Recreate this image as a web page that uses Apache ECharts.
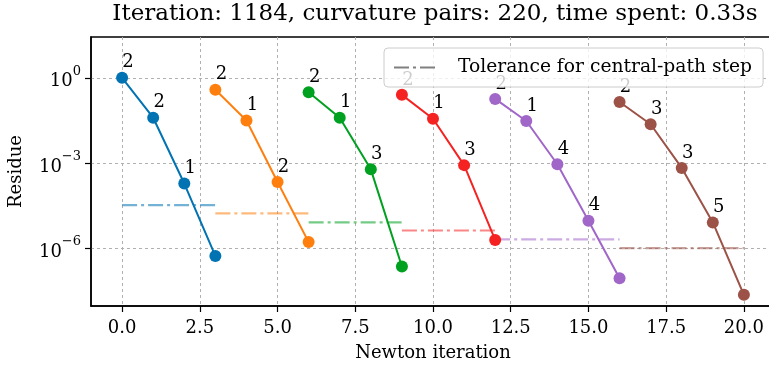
<!DOCTYPE html>
<html>
<head>
<meta charset="utf-8">
<script src="https://cdn.jsdelivr.net/npm/echarts@6/dist/echarts.min.js"></script>
<style>
  html, body { margin: 0; padding: 0; background: #fff; }
  #chart { width: 769px; height: 371px; }
</style>
</head>
<body>
<div id="chart"></div>
<script>
// Residue of each central-path step, one list per step (Newton iterations on x)
const stepStarts = [0, 3, 6, 9, 12, 16];
const residues = [
  [1.0, 3.9e-2, 1.86e-4, 5.2e-7],
  [0.38, 3.1e-2, 2.1e-4, 1.6e-6],
  [0.31, 3.9e-2, 5.9e-4, 2.2e-7],
  [0.25, 3.6e-2, 8.3e-4, 1.9e-6],
  [0.18, 3.0e-2, 8.9e-4, 9.1e-6, 8.5e-8],
  [0.14, 2.3e-2, 6.6e-4, 7.9e-6, 2.2e-8]
];
// curvature pairs used at each Newton iteration
const curvaturePairs = [
  [2, 2, 1],
  [2, 1, 2],
  [2, 1, 3],
  [2, 1, 3],
  [2, 1, 4, 4],
  [2, 3, 3, 5]
];
// tolerance used to stop each central-path step
const tolerances = [3.2e-5, 1.66e-5, 7.9e-6, 4.1e-6, 2.0e-6, 9.8e-7];
const colors = ['#0173b2', '#ff7f0e', '#00a020', '#f52222', '#a066c8', '#9c5246'];
const xTicks = [0, 2.5, 5, 7.5, 10, 12.5, 15, 17.5, 20];
const yTicks = [1e-6, 1e-3, 1];
const titleText = 'Iteration: 1184, curvature pairs: 220, time spent: 0.33s';
const toleranceName = 'Tolerance for central-path step';

const FONT = 'DejaVu Serif';

function fade(hex, a) {
  const n = parseInt(hex.slice(1), 16);
  return `rgba(${(n >> 16) & 255},${(n >> 8) & 255},${n & 255},${a})`;
}

const series = [];

// tolerance segments (drawn underneath)
tolerances.forEach((tol, i) => {
  const x0 = stepStarts[i];
  const x1 = x0 + residues[i].length - 1;
  series.push({
    type: 'line',
    data: [[x0, tol], [x1, tol]],
    symbol: 'none',
    silent: true,
    z: 1,
    lineStyle: { color: fade(colors[i], 0.55), width: 2.2, type: [15, 4, 3, 4] },
    animation: false
  });
});

// residue curves with curvature-pair labels
residues.forEach((vals, i) => {
  const x0 = stepStarts[i];
  series.push({
    type: 'line',
    z: 3,
    data: vals.map((v, k) => {
      const pairs = curvaturePairs[i][k];
      return {
        value: [x0 + k, v],
        label: pairs === undefined ? { show: false } : { show: true, formatter: String(pairs) }
      };
    }),
    symbol: 'circle',
    symbolSize: 12,
    itemStyle: { color: colors[i] },
    lineStyle: { color: colors[i], width: 2 },
    label: {
      position: 'top',
      distance: 4,
      offset: [6, 4],
      color: '#000',
      fontFamily: FONT,
      fontSize: 18
    },
    animation: false
  });
});

// legend entry for the tolerance segments
series.push({
  name: toleranceName,
  type: 'line',
  data: [],
  symbol: 'none',
  showSymbol: false,
  itemStyle: { color: '#808080' },
  lineStyle: { color: '#808080', width: 2.5, type: [15, 4, 3, 4] }
});

function powLabel(v) {
  const e = v <= 0 ? Math.round(v) : Math.round(Math.log10(v));
  const s = e < 0 ? '\u2212' + (-e) : String(e);
  return '{b|10}{s|' + s + '}';
}

const option = {
  animation: false,
  title: {
    text: titleText,
    left: 435,
    textAlign: 'center',
    top: 3,
    padding: 0,
    textStyle: { fontFamily: FONT, fontSize: 23, fontWeight: 'normal', color: '#000' }
  },
  legend: {
    data: [{ name: toleranceName, itemStyle: { opacity: 0 } }],
    left: 384,
    top: 48,
    padding: [10, 11, 10, 9],
    itemWidth: 45,
    itemHeight: 14,
    backgroundColor: 'rgba(255,255,255,0.8)',
    borderColor: '#cccccc',
    borderWidth: 1,
    borderRadius: 4,
    z: 10,
    textStyle: { fontFamily: FONT, fontSize: 18.7, color: '#000', padding: [0, 0, 0, 14] }
  },
  grid: {
    left: 91, top: 37, right: -6, bottom: 65,
    containLabel: false,
    outerBoundsMode: 'none',
    show: true,
    borderColor: '#000',
    borderWidth: 1.5,
    backgroundColor: 'transparent'
  },
  xAxis: {
    type: 'value',
    min: -1,
    max: 21,
    name: 'Newton iteration',
    nameLocation: 'middle',
    nameGap: 38,
    nameTextStyle: { fontFamily: FONT, fontSize: 18, color: '#000' },
    axisLine: { show: true, onZero: false, lineStyle: { color: '#000', width: 1.5 } },
    axisTick: { show: true, length: 6, lineStyle: { color: '#000', width: 1.2 }, customValues: xTicks },
    axisLabel: {
      customValues: xTicks,
      margin: 13,
      fontFamily: FONT, fontSize: 18, color: '#000',
      formatter: v => Number(v).toFixed(1)
    },
    splitLine: { show: true, lineStyle: { color: '#b0b0b0', width: 1, type: [3, 3] } }
  },
  yAxis: {
    type: 'log',
    logBase: 10,
    min: 8.9e-9,
    max: 27.5,
    name: 'Residue',
    nameLocation: 'middle',
    nameGap: 66,
    nameRotate: 90,
    nameTextStyle: { fontFamily: FONT, fontSize: 18, color: '#000' },
    axisLine: { show: true, onZero: false, lineStyle: { color: '#000', width: 1.5 } },
    axisTick: { show: true, length: 6, lineStyle: { color: '#000', width: 1.2 }, customValues: yTicks },
    minorTick: { show: false },
    axisLabel: {
      customValues: yTicks,
      margin: 10,
      formatter: powLabel,
      rich: {
        b: { fontFamily: FONT, fontSize: 18, color: '#000', lineHeight: 26, verticalAlign: 'bottom' },
        s: { fontFamily: FONT, fontSize: 13, color: '#000', lineHeight: 26, verticalAlign: 'top' }
      }
    },
    splitLine: { show: true, lineStyle: { color: '#b0b0b0', width: 1, type: [3, 3] } }
  },
  series: series
};

const chart = echarts.init(document.getElementById('chart'), null, { renderer: 'canvas' });
chart.setOption(option);
</script>
</body>
</html>
